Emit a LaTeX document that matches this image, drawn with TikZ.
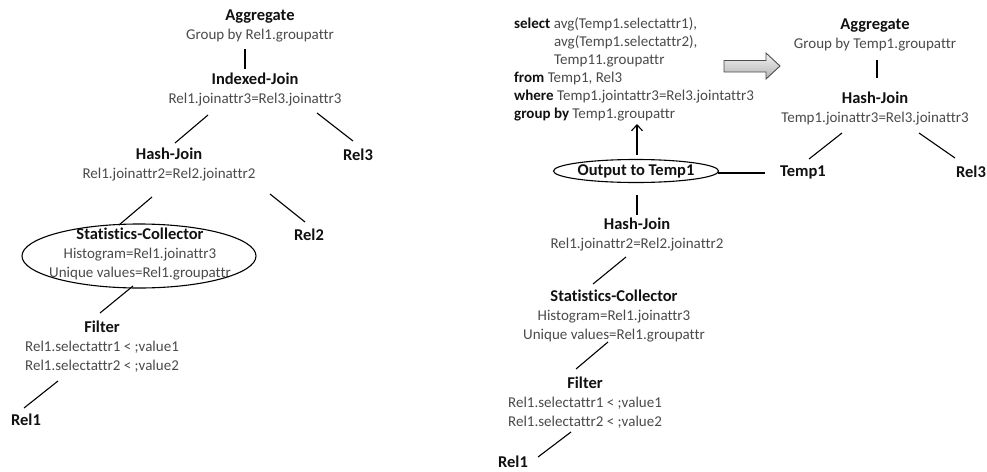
\documentclass[tikz,border=0pt]{standalone}
\usepackage{fontspec}
\setmainfont{Carlito}[Ligatures={NoCommon,NoContextual}]
\usetikzlibrary{arrows.meta,shapes.geometric,calc}
\definecolor{subgray}{HTML}{4A4A4A}
\definecolor{inkblack}{HTML}{111111}
\newcommand\optitle[1]{{\fontsize{16.5}{19}\selectfont\bfseries\color{inkblack}#1}}
\begin{document}
\begin{tikzpicture}[x=1pt,y=-1pt,
  op/.style={align=center,inner sep=0pt,text=subgray,font=\fontsize{15}{19}\selectfont},
  rel/.style={inner sep=0pt,text=inkblack,font=\fontsize{16.5}{19}\selectfont\bfseries},
  edge/.style={draw=black,line width=1.1pt},
  sqltext/.style={align=left,inner sep=0pt,text=subgray,font=\fontsize{15}{18}\selectfont}]
\useasboundingbox (0,0) rectangle (987,471);

% ---------- plan with statistics collector (left) ----------
\node[op] (aggL) at (260,25.5) {\optitle{Aggregate}\\Group by Rel1.groupattr};
\node[op] (ijL)  at (255,89.5) {\optitle{Indexed-Join}\\Rel1.joinattr3=Rel3.joinattr3};
\node[rel] (rel3L) at (358,155) {Rel3};
\node[op] (hjL)  at (169,164.5) {\optitle{Hash-Join}\\Rel1.joinattr2=Rel2.joinattr2};
\node[rel] (rel2L) at (309,235) {Rel2};
\node[op] (scL)  at (140,254) {\optitle{Statistics-Collector}\\Histogram=Rel1.joinattr3\\Unique values=Rel1.groupattr};
\draw[line width=1.1pt] ([shift={(-1,2)}]scL.center) ellipse [x radius=117pt, y radius=32pt];
\node[op] (filtL) at (102,347) {\optitle{Filter}\\Rel1.selectattr1 < ;value1\\Rel1.selectattr2 < ;value2};
\node[rel] (rel1L) at (26,420) {Rel1};

\draw[edge] ([shift={(-15,23.5)}]aggL.center) -- ([shift={(-10,-20.5)}]ijL.center);
\draw[edge] ([shift={(-47,25.5)}]ijL.center) -- ([shift={(6,-21.5)}]hjL.center);
\draw[edge] ([shift={(62,23.5)}]ijL.center) -- ([shift={(-5,-14)}]rel3L.center);
\draw[edge] ([shift={(-17,32.5)}]hjL.center) -- ([shift={(-21,-29)}]scL.center);
\draw[edge] ([shift={(101,29.5)}]hjL.center) -- ([shift={(-4,-13)}]rel2L.center);
\draw[edge] ([shift={(-7,32)}]scL.center) -- ([shift={(-2,-34)}]filtL.center);
\draw[edge] ([shift={(-44,34)}]filtL.center) -- ([shift={(-2,-12)}]rel1L.center);

% ---------- plan split at the materialised result (right) ----------
\node[sqltext,anchor=west] (sql) at (514,69.5) {\textbf{\color{inkblack}select} avg(Temp1.selectattr1),\\
\hspace*{40pt}avg(Temp1.selectattr2),\\
\hspace*{40pt}Temp11.groupattr\\
\textbf{\color{inkblack}from} Temp1, Rel3\\
\textbf{\color{inkblack}where} Temp1.jointattr3=Rel3.jointattr3\\
\textbf{\color{inkblack}group by} Temp1.groupattr};

% rewrite arrow
\draw[draw=black!70,line width=0.9pt,top color=gray!10,bottom color=gray!60]
  (724,60.5) -- (766,60.5) -- (766,53) -- (780,66) -- (766,79) -- (766,72) -- (724,72) -- cycle;

\node[op] (aggR) at (875,34.5) {\optitle{Aggregate}\\Group by Temp1.groupattr};
\node[op] (hjR)  at (875,108.5) {\optitle{Hash-Join}\\Temp1.joinattr3=Rel3.joinattr3};
\node[rel] (temp1R) at (803,172) {Temp1};
\node[rel] (rel3R) at (971,172) {Rel3};

\node[ellipse,draw,line width=1.1pt,inner sep=0pt,minimum width=147pt,minimum height=23pt,
      text=inkblack,font=\fontsize{16.5}{19}\selectfont\bfseries] (out) at (636,171) {Output to Temp1};

\node[op] (hj2R) at (637,234) {\optitle{Hash-Join}\\Rel1.joinattr2=Rel2.joinattr2};
\node[op] (scR)  at (614,316) {\optitle{Statistics-Collector}\\Histogram=Rel1.joinattr3\\Unique values=Rel1.groupattr};
\node[op] (filtR) at (585,402.5) {\optitle{Filter}\\Rel1.selectattr1 < ;value1\\Rel1.selectattr2 < ;value2};
\node[rel] (rel1R) at (513,462) {Rel1};

\draw[edge] ([shift={(2,25.5)}]aggR.center) -- ([shift={(2,-30.5)}]hjR.center);
\draw[edge] ([shift={(-33,24.5)}]hjR.center) -- ([shift={(6,-13)}]temp1R.center);
\draw[edge] ([shift={(44,24.5)}]hjR.center) -- ([shift={(-16,-14)}]rel3R.center);
\draw[edge] ([shift={(82,2)}]out.center) -- ([shift={(-38,1)}]temp1R.center);
\draw[edge,-{Straight Barb[length=6pt,width=11pt]}] ([shift={(1,-16)}]out.center) -- ([shift={(123,54.5)}]sql.west);
\draw[edge] ([shift={(1,24)}]out.center) -- ([shift={(0,-19)}]hj2R.center);
\draw[edge] ([shift={(-11,23)}]hj2R.center) -- ([shift={(-21,-32)}]scR.center);
\draw[edge] ([shift={(-6,26)}]scR.center) -- ([shift={(-9,-33.5)}]filtR.center);
\draw[edge] ([shift={(-14,29.5)}]filtR.center) -- ([shift={(25,-5)}]rel1R.center);
\end{tikzpicture}
\end{document}
